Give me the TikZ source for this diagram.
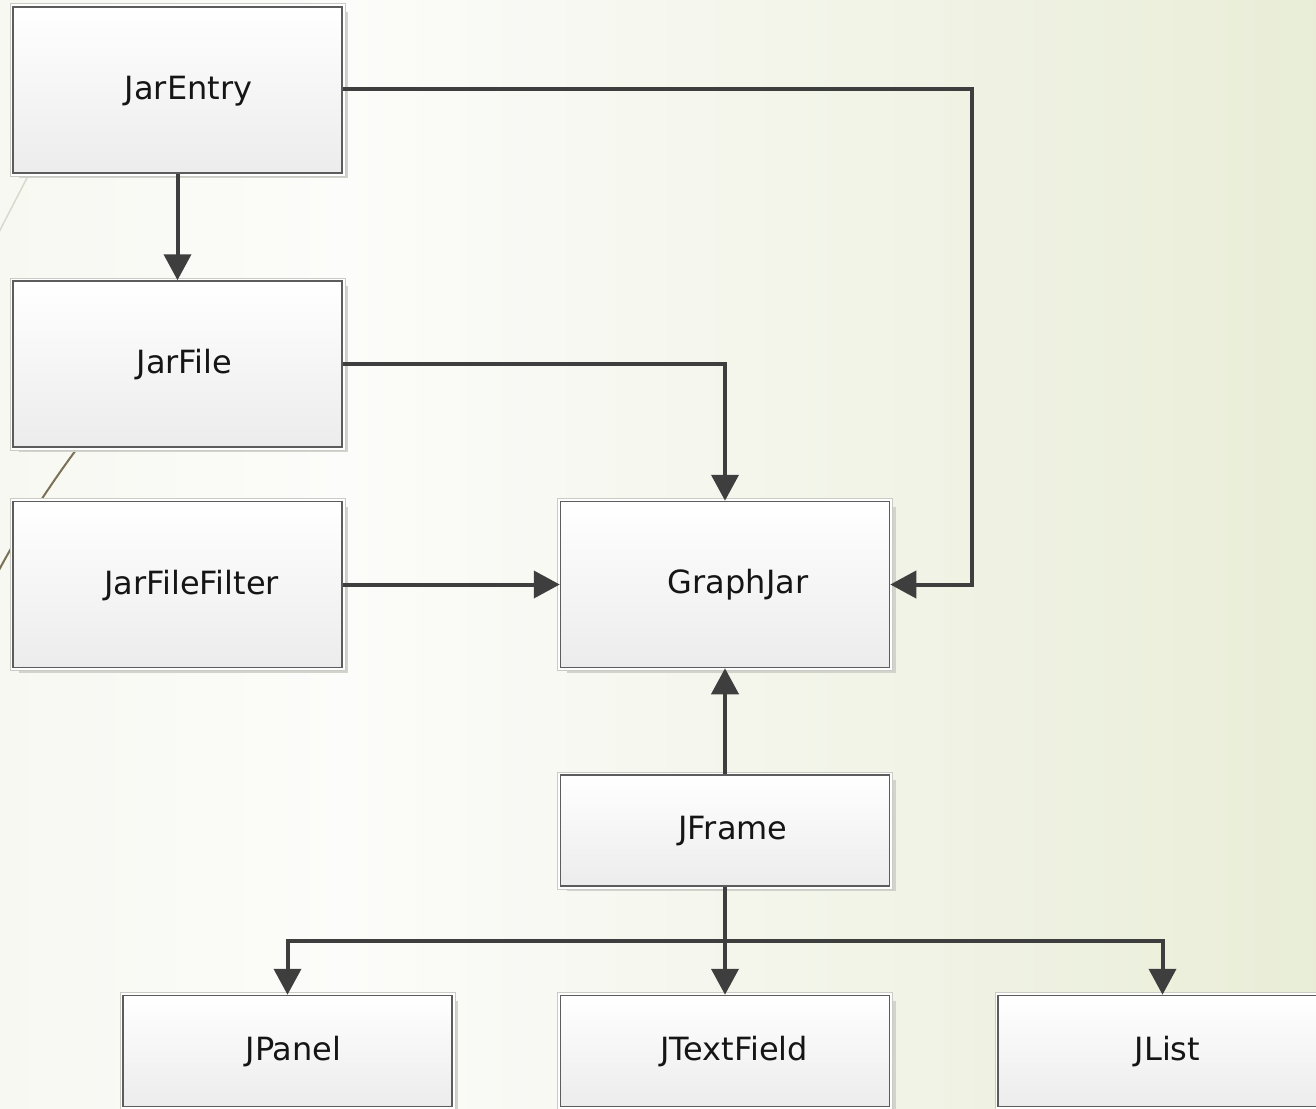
\documentclass[tikz,border=0pt]{standalone}
\usepackage{fontspec}
\setmainfont{DejaVu Sans}
\usetikzlibrary{arrows.meta,shadows,calc}
\definecolor{bgL}{HTML}{EDF1DF}
\definecolor{bgM}{HTML}{FCFCFA}
\definecolor{bgN}{HTML}{F3F5EA}
\definecolor{bgR}{HTML}{DCE4C0}
\definecolor{boxline}{HTML}{5C5C5C}
\definecolor{boxbot}{HTML}{ECECEC}
\definecolor{outerc}{HTML}{C9CBC4}
\definecolor{shadowc}{HTML}{D2D4CC}
\definecolor{arrc}{HTML}{3E3E3E}
\definecolor{txt}{HTML}{151515}
\definecolor{deco}{HTML}{7A7156}
\definecolor{decolight}{HTML}{D8D9CE}
\pgfdeclarehorizontalshading{bgsh}{100bp}{color(0bp)=(bgL); color(38bp)=(bgM); color(55bp)=(bgN); color(100bp)=(bgR)}
\begin{document}
\begin{tikzpicture}[x=1pt,y=-1pt,
  box/.style={draw=boxline, line width=1.5pt, top color=white, bottom color=boxbot,
    minimum width=329pt, inner sep=0pt,
    drop shadow={shadow xshift=6pt, shadow yshift=-5pt, fill=shadowc, opacity=1},
    preaction={draw=outerc, line width=7pt},
    preaction={draw=white, line width=5pt}},
  tall/.style={box, minimum height=166pt},
  short/.style={box, minimum height=111pt},
  lbl/.style={anchor=base, text=txt, font=\fontsize{32}{38}\selectfont, inner sep=0pt},
  conn/.style={draw=arrc, line width=4pt},
  arr/.style={conn, -{Triangle[length=26pt,width=27pt]}}]
\useasboundingbox (0,0) rectangle (1316,1108);
\clip (0,0) rectangle (1316,1108);
% background
\fill[shading=bgsh] (0,0) rectangle (1316,1108);
% decorative theme lines
\draw[decolight, line width=1.5pt] (28,176) -- (-2,234);
\draw[deco, line width=2pt] (76,450) .. controls (55,478) and (20,530) .. (-2,572);
% boxes
\node[tall, label={[lbl,xshift=11pt,yshift=-1pt]center:JarEntry}] (je) at (177.5,90) {};
\node[tall, label={[lbl,xshift=7pt,yshift=-1pt]center:JarFile}] (jf) at (177.5,364) {};
\node[tall, label={[lbl,xshift=14pt,yshift=-1pt]center:JarFileFilter}] (jff) at (177.5,584.5) {};
\node[tall, label={[lbl,xshift=13pt,yshift=0pt]center:GraphJar}] (gj) at (725,584.5) {};
\node[short, label={[lbl,xshift=8pt,yshift=-1pt]center:JFrame}] (jfr) at (725,830.5) {};
\node[short, label={[lbl,xshift=6pt,yshift=-1pt]center:JPanel}] (jp) at (287.5,1051) {};
\node[short, label={[lbl,xshift=9pt,yshift=-1pt]center:JTextField}] (jt) at (725,1051) {};
\node[short, label={[lbl,xshift=5pt,yshift=-1pt]center:JList}] (jl) at (1162.5,1051) {};
% connector helpers
\coordinate (rr) at (972,89);
\coordinate (bus) at (725,941);
% connectors
\draw[arr] (je.south) -- (jf.north);
\draw[arr] (je.east |- rr) -- (rr) |- (gj.east);
\draw[arr] (jf.east) -| (gj.north);
\draw[arr] (jff.east) -- (gj.west);
\draw[arr] (jfr.north) -- (gj.south);
\draw[conn] (jfr.south) -- (bus);
\draw[arr] (bus) -| (jp.north);
\draw[arr] (bus) -| (jl.north);
\draw[arr] (bus) -- (jt.north);
\end{tikzpicture}
\end{document}
